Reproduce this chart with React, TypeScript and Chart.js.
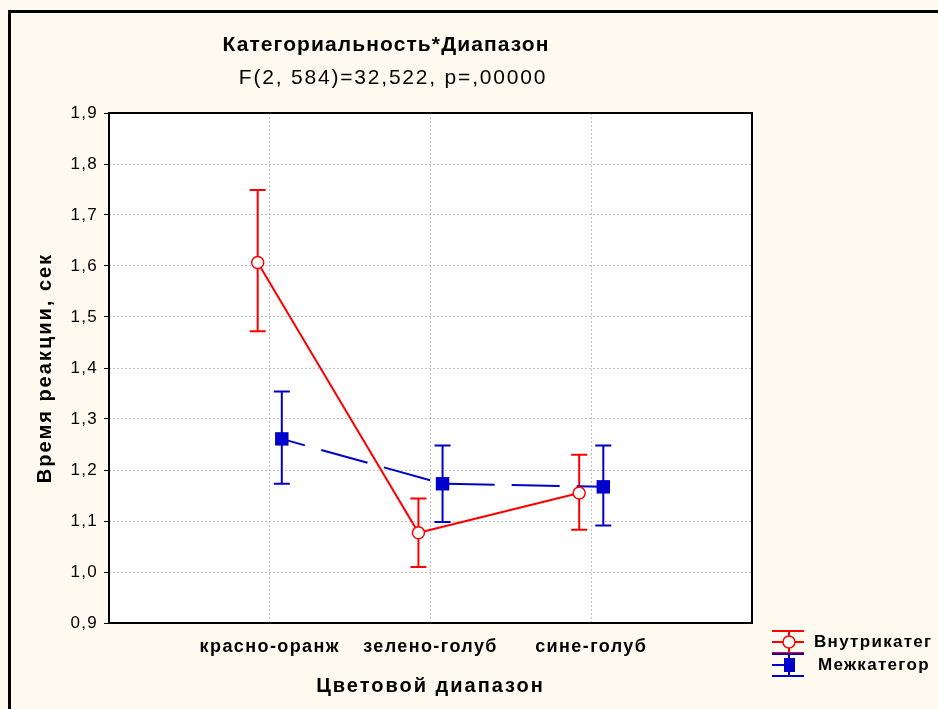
import React, { useEffect, useRef } from 'react';
import { Chart, registerables } from 'chart.js';

Chart.register(...registerables);

const categories = ['красно-оранж', 'зелено-голуб', 'сине-голуб'];
const seriesNames = ['Внутрикатег', 'Межкатегор'];
const withinMean = [1.607, 1.077, 1.155];
const withinUpper = [1.749, 1.144, 1.230];
const withinLower = [1.472, 1.010, 1.083];
const betweenMean = [1.261, 1.173, 1.167];
const betweenUpper = [1.354, 1.248, 1.248];
const betweenLower = [1.173, 1.098, 1.091];
const yMin = 0.9;
const yMax = 1.9;
const titleText = 'Категориальность*Диапазон';
const subtitleText = 'F(2, 584)=32,522, p=,00000';
const xTitle = 'Цветовой диапазон';
const yTitle = 'Время реакции, сек';

const RED = '#FF0000';
const BLUE = '#0000CC';
const BG = '#FEFAEF';
const FONT = "'Liberation Sans', Arial, sans-serif";
const OFFSET = 0.075;

const errorBars = [
  { lower: withinLower, upper: withinUpper, color: RED, offset: -OFFSET },
  { lower: betweenLower, upper: betweenUpper, color: BLUE, offset: OFFSET },
];

function spaced(ctx: any, px: number) {
  try { ctx.letterSpacing = px + 'px'; } catch (e) { /* ignore */ }
}

function wrapScale(scale: any, labelPx: number, titlePx: number) {
  if (!scale || scale.__wrapped) return;
  const dl = scale.drawLabels.bind(scale);
  const dt = scale.drawTitle.bind(scale);
  scale.drawLabels = (a: any) => {
    const c = scale.ctx;
    c.save();
    spaced(c, labelPx);
    dl(a);
    c.restore();
  };
  scale.drawTitle = (a: any) => {
    const c = scale.ctx;
    c.save();
    spaced(c, titlePx);
    dt(a);
    c.restore();
  };
  scale.__wrapped = true;
}

const decorPlugin = {
  id: 'decor',
  beforeDraw(chart: any) {
    const { ctx, width, height, chartArea } = chart;
    wrapScale(chart.scales.x, 1.4, 2);
    wrapScale(chart.scales.y, 1.3, 2);
    ctx.save();
    ctx.fillStyle = BG;
    ctx.fillRect(0, 0, width, height);
    ctx.fillStyle = '#000';
    ctx.fillRect(8, 10, 3, height);
    ctx.fillRect(8, 10, width, 3);
    ctx.fillStyle = '#FFFFFF';
    ctx.fillRect(chartArea.left, chartArea.top, chartArea.right - chartArea.left, chartArea.bottom - chartArea.top);
    ctx.restore();
  },
  beforeDatasetsDraw(chart: any) {
    const { ctx, scales } = chart;
    const xs = scales.x;
    const ys = scales.y;
    ctx.save();
    errorBars.forEach((eb) => {
      ctx.strokeStyle = eb.color;
      ctx.lineWidth = 2;
      categories.forEach((_, i) => {
        const x = xs.getPixelForValue(i + 1 + eb.offset);
        const yl = ys.getPixelForValue(eb.lower[i]);
        const yu = ys.getPixelForValue(eb.upper[i]);
        ctx.beginPath();
        ctx.moveTo(x, yl);
        ctx.lineTo(x, yu);
        ctx.moveTo(x - 8, yl);
        ctx.lineTo(x + 8, yl);
        ctx.moveTo(x - 8, yu);
        ctx.lineTo(x + 8, yu);
        ctx.stroke();
      });
    });
    ctx.restore();
  },
  afterDraw(chart: any) {
    const { ctx, chartArea } = chart;
    ctx.save();
    // plot frame
    ctx.strokeStyle = '#000';
    ctx.lineWidth = 2;
    ctx.strokeRect(chartArea.left, chartArea.top, chartArea.right - chartArea.left, chartArea.bottom - chartArea.top);
    // titles
    ctx.fillStyle = '#000';
    ctx.textAlign = 'center';
    ctx.textBaseline = 'middle';
    spaced(ctx, 1.1);
    ctx.font = `bold 21px ${FONT}`;
    ctx.fillText(titleText, 386, 45);
    spaced(ctx, 1.8);
    ctx.font = `21px ${FONT}`;
    ctx.fillText(subtitleText, 393, 78);
    // legend
    const items = [
      { color: RED, y: 642, name: seriesNames[0], circle: true, tx: 814 },
      { color: BLUE, y: 665, name: seriesNames[1], circle: false, tx: 818 },
    ];
    items.forEach((it) => {
      const cx = 789;
      ctx.strokeStyle = it.color;
      ctx.lineWidth = 2;
      ctx.beginPath();
      ctx.moveTo(772, it.y - 11);
      ctx.lineTo(804, it.y - 11);
      ctx.moveTo(772, it.y + 11);
      ctx.lineTo(804, it.y + 11);
      if (it.circle) {
        ctx.moveTo(772, it.y);
        ctx.lineTo(804, it.y);
      } else {
        ctx.moveTo(772, it.y);
        ctx.lineTo(cx, it.y);
      }
      ctx.moveTo(cx, it.y - 11);
      ctx.lineTo(cx, it.y + 11);
      ctx.stroke();
      if (it.circle) {
        ctx.fillStyle = '#FFFFFF';
        ctx.lineWidth = 1.5;
        ctx.beginPath();
        ctx.arc(cx, it.y, 6, 0, Math.PI * 2);
        ctx.fill();
        ctx.stroke();
      } else {
        ctx.fillStyle = it.color;
        ctx.fillRect(cx - 5, it.y - 7, 11, 14);
      }
      ctx.fillStyle = '#000';
      ctx.textAlign = 'left';
      spaced(ctx, 1.3);
      ctx.font = `bold 17px ${FONT}`;
      ctx.fillText(it.name, it.tx, it.y);
    });
    ctx.restore();
  },
};

export default function App() {
  const ref = useRef<HTMLCanvasElement | null>(null);
  useEffect(() => {
    if (!ref.current) return;
    const chart = new Chart(ref.current, {
      type: 'scatter',
      data: {
        datasets: [
          {
            label: seriesNames[0],
            data: withinMean.map((v, i) => ({ x: i + 1 - OFFSET, y: v })),
            showLine: true,
            borderColor: RED,
            borderWidth: 2,
            pointStyle: 'circle',
            pointRadius: 6,
            pointBackgroundColor: '#FFFFFF',
            pointBorderColor: RED,
            pointBorderWidth: 1.5,
          },
          {
            label: seriesNames[1],
            data: betweenMean.map((v, i) => ({ x: i + 1 + OFFSET, y: v })),
            showLine: true,
            borderColor: BLUE,
            borderWidth: 2,
            borderDash: [48, 17],
            borderDashOffset: 24,
            pointStyle: 'rect',
            pointRadius: 9.5,
            pointBackgroundColor: BLUE,
            pointBorderColor: BLUE,
            pointBorderWidth: 0,
          },
        ],
      },
      options: {
        animation: false,
        responsive: false,
        layout: { padding: { top: 113, right: 186, left: 0, bottom: 0 } },
        plugins: { legend: { display: false }, tooltip: { enabled: false }, title: { display: false } },
        scales: {
          x: {
            type: 'linear',
            min: 0,
            max: 4,
            afterFit: (s: any) => { s.height = 86; },
            afterBuildTicks: (s: any) => { s.ticks = [0, 1, 2, 3, 4].map((v) => ({ value: v })); },
            ticks: {
              autoSkip: false,
              maxRotation: 0,
              padding: 13,
              color: '#000',
              font: { family: FONT, size: 18, weight: 'bold' },
              callback: (v: any) => (v >= 1 && v <= 3 ? categories[v - 1] : ''),
            },
            grid: { color: '#C0C0C0', borderDash: [2, 2], drawTicks: false, lineWidth: 1 } as any,
            border: { display: false, dash: [2, 2] },
            title: {
              display: true,
              text: xTitle,
              color: '#000',
              font: { family: FONT, size: 20, weight: 'bold' },
              padding: { top: 0, bottom: 11 },
            },
          },
          y: {
            type: 'linear',
            min: yMin,
            max: yMax,
            afterFit: (s: any) => { s.width = 109; },
            ticks: {
              stepSize: 0.1,
              padding: 6,
              color: '#000',
              font: { family: FONT, size: 17 },
              callback: (v: any) => Number(v).toFixed(1).replace('.', ','),
            },
            grid: { color: '#C0C0C0', tickColor: '#000', tickLength: 5, tickBorderDash: [], lineWidth: 1 } as any,
            border: { display: false, dash: [2, 2] },
            title: {
              display: true,
              text: yTitle,
              color: '#000',
              font: { family: FONT, size: 20, weight: 'bold' },
              padding: { top: 33, bottom: 0 },
            },
          },
        },
      } as any,
      plugins: [decorPlugin],
    });
    return () => chart.destroy();
  }, []);
  return (
    <div style={{ position: 'fixed', left: 0, top: 0, width: 938, height: 709 }}>
      <canvas ref={ref} width={938} height={709} style={{ width: 938, height: 709, display: 'block' }} />
    </div>
  );
}
